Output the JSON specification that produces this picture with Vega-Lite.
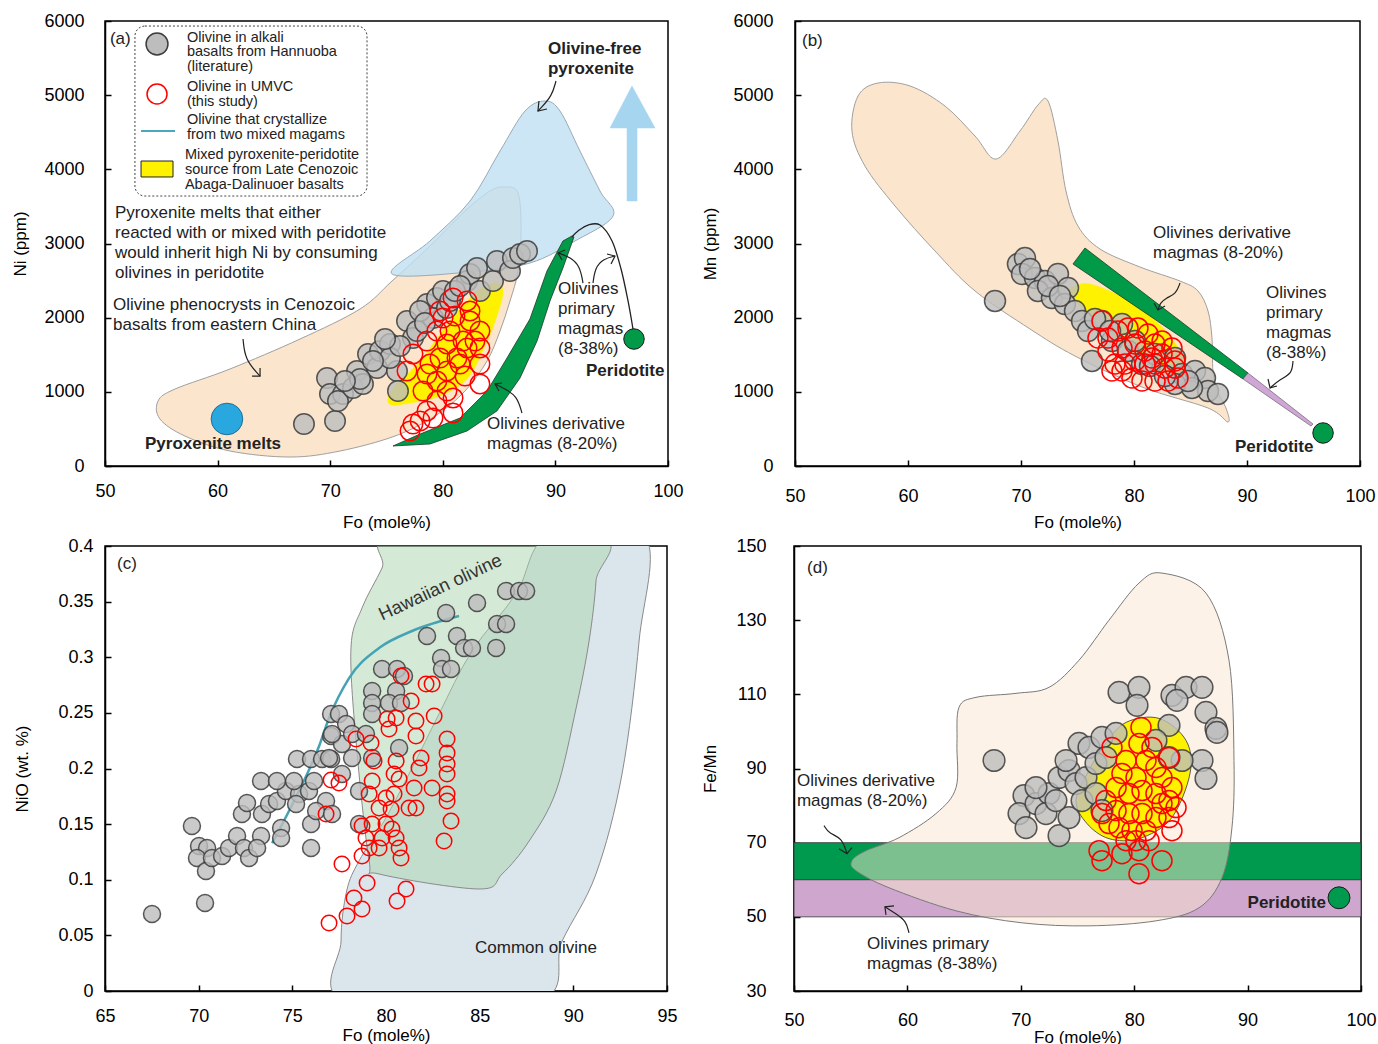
{
"$schema":"https://vega.github.io/schema/vega-lite/v6.json",
"background":"white",
"padding":{"left":11,"top":11,"right":0,"bottom":0},
"spacing":5,
"config":{
 "font":"Liberation Sans",
 "view":{"stroke":"#000","strokeWidth":1.5},
 "axis":{"grid":false,"domainColor":"#000","domainWidth":1.5,"tickColor":"#000","tickWidth":1.5,"tickSize":-6,"labelColor":"#000","labelFontSize":18,"labelFlush":false,"labelOverlap":false,"titleFontSize":17,"titleFontWeight":"normal","titleColor":"#000","zindex":1}
},
"vconcat":[
{"hconcat":[
{
"width":563,"height":445,
"encoding":{
 "x":{"field":"fo","type":"quantitative","scale":{"domain":[50,100],"nice":false,"zero":false},"axis":{"values":[50,60,70,80,90,100],"format":"d","title":"Fo (mole%)","labelPadding":22,"titlePadding":14}},
 "y":{"field":"ni","type":"quantitative","scale":{"domain":[0,6000],"nice":false,"zero":false},"axis":{"values":[0,1000,2000,3000,4000,5000,6000],"format":"d","title":"Ni (ppm)","labelPadding":27,"titlePadding":14}}
},
"layer":[
{"data":{"values":[{"fo":54.71,"ni":876},{"fo":56.22,"ni":1038},{"fo":61.10,"ni":1308},{"fo":67.32,"ni":1712},{"fo":72.65,"ni":2117},{"fo":75.49,"ni":2494},{"fo":78.86,"ni":2966},{"fo":81.97,"ni":3438},{"fo":84.19,"ni":3708},{"fo":85.52,"ni":3762},{"fo":86.68,"ni":3681},{"fo":86.95,"ni":3169},{"fo":86.68,"ni":2629},{"fo":85.97,"ni":2225},{"fo":85.08,"ni":1820},{"fo":83.93,"ni":1416},{"fo":81.97,"ni":1011},{"fo":79.31,"ni":674},{"fo":75.75,"ni":404},{"fo":70.87,"ni":202},{"fo":66.43,"ni":121},{"fo":61.10,"ni":202},{"fo":57.10,"ni":404},{"fo":54.88,"ni":634}]},
 "mark":{"type":"line","interpolate":"cardinal-closed","fill":"#FBE5CC","stroke":"#a0a0a0","strokeWidth":1},"encoding":{"order":{"value":null}}},
{"data":{"values":[{"fo":75.49,"ni":2589},{"fo":78.86,"ni":3034},{"fo":82.42,"ni":3573},{"fo":85.08,"ni":4247},{"fo":87.30,"ni":4786},{"fo":89.08,"ni":4921},{"fo":90.41,"ni":4786},{"fo":92.18,"ni":4247},{"fo":93.96,"ni":3708},{"fo":95.12,"ni":3371},{"fo":91.74,"ni":3034},{"fo":87.74,"ni":2737},{"fo":82.42,"ni":2616}]},
 "mark":{"type":"line","interpolate":"cardinal-closed","fill":"#BFE0F3","fillOpacity":0.8,"stroke":"#9aaab4","strokeWidth":1},"encoding":{"order":{"value":null}}},
{"data":{"values":[{"fo":96.36,"ni":3573},{"fo":96.36,"ni":4557},{"fo":94.85,"ni":4557},{"fo":96.80,"ni":5124},{"fo":98.85,"ni":4557},{"fo":97.25,"ni":4557},{"fo":97.25,"ni":3573}]},
 "mark":{"type":"line","interpolate":"linear-closed","fill":"#A6D5F0","stroke":"#A6D5F0","strokeWidth":0.5},"encoding":{"order":{"value":null}}},
{"data":{"values":[{"fo":75.58,"ni":270},{"fo":78.86,"ni":297},{"fo":82.15,"ni":472},{"fo":84.81,"ni":742},{"fo":86.86,"ni":1187},{"fo":88.37,"ni":1685},{"fo":89.52,"ni":2225},{"fo":90.67,"ni":2670},{"fo":91.65,"ni":3088},{"fo":91.47,"ni":3101},{"fo":90.67,"ni":3034},{"fo":89.25,"ni":2629},{"fo":87.74,"ni":1982},{"fo":85.70,"ni":1456},{"fo":83.93,"ni":1011},{"fo":81.53,"ni":647},{"fo":77.98,"ni":431}]},
 "mark":{"type":"line","interpolate":"linear-closed","fill":"#009A49","stroke":"#1c3b28","strokeWidth":0.8},"encoding":{"order":{"value":null}}},
{"data":{"values":[{"fo":75.13,"ni":903},{"fo":75.75,"ni":1079},{"fo":77.98,"ni":1416},{"fo":80.64,"ni":1955},{"fo":82.86,"ni":2333},{"fo":84.64,"ni":2467},{"fo":85.35,"ni":2360},{"fo":84.81,"ni":2022},{"fo":83.75,"ni":1618},{"fo":82.15,"ni":1173},{"fo":79.75,"ni":944},{"fo":77.09,"ni":849},{"fo":75.49,"ni":822}]},
 "mark":{"type":"line","interpolate":"cardinal-closed","fill":"#FFF200","stroke":"#FFF200","strokeWidth":0.5},"encoding":{"order":{"value":null}}},
{"data":{"values":[{"fo":96.89,"ni":1847},{"fo":96.45,"ni":2225},{"fo":95.83,"ni":2656},{"fo":95.03,"ni":3034},{"fo":93.96,"ni":3249},{"fo":92.90,"ni":3249},{"fo":92.01,"ni":3169},{"fo":91.47,"ni":3088}]},
 "mark":{"type":"line","interpolate":"cardinal","stroke":"#222","strokeWidth":1.3},"encoding":{"order":{"value":null}}},
{"data":{"values":[{"fo":67.67,"ni":566},{"fo":70.43,"ni":607},{"fo":69.72,"ni":1187},{"fo":69.98,"ni":971},{"fo":71.14,"ni":971},{"fo":70.69,"ni":876},{"fo":72.38,"ni":1281},{"fo":72.02,"ni":1052},{"fo":72.91,"ni":1106},{"fo":73.36,"ni":1510},{"fo":74.16,"ni":1321},{"fo":74.42,"ni":1551},{"fo":75.31,"ni":1645},{"fo":75.93,"ni":1281},{"fo":76.02,"ni":1011},{"fo":76.82,"ni":1955},{"fo":77.35,"ni":1726},{"fo":77.71,"ni":1820},{"fo":78.60,"ni":2184},{"fo":79.13,"ni":1995},{"fo":79.48,"ni":2265},{"fo":80.02,"ni":2360},{"fo":80.37,"ni":2130},{"fo":82.15,"ni":2494},{"fo":82.42,"ni":2589},{"fo":83.04,"ni":2670},{"fo":83.30,"ni":2360},{"fo":84.46,"ni":2494},{"fo":84.81,"ni":2764},{"fo":85.97,"ni":2629},{"fo":86.23,"ni":2804},{"fo":86.86,"ni":2858},{"fo":87.48,"ni":2899},{"fo":75.31,"ni":1456},{"fo":80.64,"ni":2225},{"fo":81.08,"ni":2360},{"fo":77.98,"ni":2090},{"fo":76.20,"ni":1618},{"fo":73.80,"ni":1416},{"fo":72.65,"ni":1173},{"fo":71.31,"ni":1146},{"fo":74.87,"ni":1712},{"fo":78.42,"ni":1928},{"fo":81.53,"ni":2427}]},
 "mark":{"type":"circle","size":420,"fill":"#BDBDBD","fillOpacity":0.8,"stroke":"#3c3c3c","strokeWidth":1.5,"strokeOpacity":0.85}},
{"data":{"values":[{"fo":77.09,"ni":472},{"fo":77.98,"ni":607},{"fo":78.60,"ni":742},{"fo":80.91,"ni":715},{"fo":76.82,"ni":1281},{"fo":77.35,"ni":1510},{"fo":78.60,"ni":1685},{"fo":79.48,"ni":1820},{"fo":80.02,"ni":1995},{"fo":80.91,"ni":2265},{"fo":82.15,"ni":2225},{"fo":82.42,"ni":1955},{"fo":83.30,"ni":1820},{"fo":83.30,"ni":1591},{"fo":83.30,"ni":1375},{"fo":83.30,"ni":1106},{"fo":82.15,"ni":1591},{"fo":81.53,"ni":1375},{"fo":80.37,"ni":1281},{"fo":79.48,"ni":1146},{"fo":78.86,"ni":1375},{"fo":80.37,"ni":1011},{"fo":79.48,"ni":876},{"fo":80.91,"ni":917},{"fo":78.24,"ni":1011},{"fo":81.79,"ni":1685},{"fo":80.37,"ni":1645},{"fo":81.26,"ni":1456},{"fo":79.13,"ni":647},{"fo":77.35,"ni":566},{"fo":80.64,"ni":1820},{"fo":79.75,"ni":1456},{"fo":78.60,"ni":1240},{"fo":81.08,"ni":2022},{"fo":82.42,"ni":2090},{"fo":79.75,"ni":2090},{"fo":82.86,"ni":1685},{"fo":81.97,"ni":1213}]},
 "mark":{"type":"point","shape":"circle","size":380,"filled":false,"stroke":"#FF0000","strokeWidth":1.5,"opacity":1}},
{"data":{"values":[{"fo":96.98,"ni":1712}]},"mark":{"type":"circle","size":420,"fill":"#009A49","stroke":"#1a1a1a","strokeWidth":1,"opacity":1}},
{"data":{"values":[{"fo":60.83,"ni":634}]},"mark":{"type":"circle","size":1000,"fill":"#29A8E0","stroke":"#1f6f96","strokeWidth":1,"opacity":1}},
{"data":{"values":[{"id":"a1","fo":90.05,"ni":5191},{"id":"a1","fo":89.70,"ni":4989},{"id":"a1","fo":88.63,"ni":4813},{"id":"a1","fo":88.45,"ni":4786},{"id":"a2","fo":62.26,"ni":1712},{"id":"a2","fo":62.43,"ni":1443},{"id":"a2","fo":63.59,"ni":1240},{"id":"a2","fo":63.77,"ni":1213},{"id":"a3","fo":92.45,"ni":2467},{"id":"a3","fo":92.18,"ni":2697},{"id":"a3","fo":91.30,"ni":2818},{"id":"a3","fo":90.23,"ni":2872},{"id":"a4","fo":93.34,"ni":2467},{"id":"a4","fo":93.52,"ni":2670},{"id":"a4","fo":94.23,"ni":2791},{"id":"a4","fo":95.29,"ni":2831},{"id":"a5","fo":87.03,"ni":715},{"id":"a5","fo":86.59,"ni":944},{"id":"a5","fo":85.52,"ni":1038},{"id":"a5","fo":84.64,"ni":1106}]},
 "mark":{"type":"line","interpolate":"basis","stroke":"#222","strokeWidth":1.2},"encoding":{"detail":{"field":"id"},"order":{"value":null}}},
{"data":{"values":[{"id":"a1","fo":88.54,"ni":4921},{"id":"a1","fo":88.45,"ni":4786},{"id":"a1","fo":89.25,"ni":4813},{"id":"a2","fo":63.06,"ni":1213},{"id":"a2","fo":63.77,"ni":1213},{"id":"a2","fo":63.77,"ni":1321},{"id":"a3","fo":90.85,"ni":2912},{"id":"a3","fo":90.23,"ni":2872},{"id":"a3","fo":90.59,"ni":2777},{"id":"a4","fo":94.58,"ni":2858},{"id":"a4","fo":95.29,"ni":2831},{"id":"a4","fo":94.94,"ni":2724},{"id":"a5","fo":85.26,"ni":1119},{"id":"a5","fo":84.64,"ni":1106},{"id":"a5","fo":84.99,"ni":1011}]},
 "mark":{"type":"line","interpolate":"linear","stroke":"#222","strokeWidth":1.2},"encoding":{"detail":{"field":"id"},"order":{"value":null}}},
{"data":{"values":[{"fo":50.89,"ni":3411,"t":"Pyroxenite melts that either"},{"fo":50.89,"ni":3142,"t":"reacted with or mixed with peridotite"},{"fo":50.89,"ni":2872,"t":"would inherit high Ni by consuming"},{"fo":50.89,"ni":2602,"t":"olivines in peridotite"},{"fo":50.71,"ni":2171,"t":"Olivine phenocrysts in Cenozoic"},{"fo":50.71,"ni":1901,"t":"basalts from eastern China"},{"fo":90.23,"ni":2387,"t":"Olivines"},{"fo":90.23,"ni":2117,"t":"primary"},{"fo":90.23,"ni":1847,"t":"magmas"},{"fo":90.23,"ni":1578,"t":"(8-38%)"},{"fo":83.93,"ni":566,"t":"Olivines derivative"},{"fo":83.93,"ni":297,"t":"magmas (8-20%)"},{"fo":50.44,"ni":5757,"t":"(a)"}]},
 "mark":{"type":"text","align":"left","baseline":"middle","fontSize":17,"color":"#222"},"encoding":{"text":{"field":"t"}}},
{"data":{"values":[{"fo":89.34,"ni":5622,"t":"Olivine-free"},{"fo":89.34,"ni":5353,"t":"pyroxenite"},{"fo":92.72,"ni":1281,"t":"Peridotite"},{"fo":53.55,"ni":297,"t":"Pyroxenite melts"}]},
 "mark":{"type":"text","align":"left","baseline":"middle","fontSize":17,"fontWeight":"bold","color":"#222"},"encoding":{"text":{"field":"t"}}},
{"data":{"values":[{"fo":52.66,"fo2":73.27,"ni":3640,"ni2":5932}]},
 "mark":{"type":"rect","fill":"white","stroke":"#444","strokeWidth":1,"strokeDash":[2,2],"cornerRadius":10},"encoding":{"x2":{"field":"fo2"},"y2":{"field":"ni2"}}},
{"data":{"values":[{"fo":54.62,"ni":5690}]},"mark":{"type":"circle","size":480,"fill":"#BDBDBD","stroke":"#3c3c3c","strokeWidth":1.5,"opacity":1}},
{"data":{"values":[{"fo":54.62,"ni":5016}]},"mark":{"type":"point","shape":"circle","size":400,"filled":false,"stroke":"#FF0000","strokeWidth":1.5,"opacity":1}},
{"data":{"values":[{"fo":53.20,"ni":4517},{"fo":56.22,"ni":4517}]},"mark":{"type":"line","stroke":"#4BA8BC","strokeWidth":2},"encoding":{"order":{"value":null}}},
{"data":{"values":[{"fo":53.20,"fo2":56.04,"ni":3897,"ni2":4112}]},"mark":{"type":"rect","fill":"#FFF200","stroke":"#222","strokeWidth":1},"encoding":{"x2":{"field":"fo2"},"y2":{"field":"ni2"}}},
{"data":{"values":[{"fo":57.28,"ni":5771,"t":"Olivine in alkali"},{"fo":57.28,"ni":5582,"t":"basalts from Hannuoba"},{"fo":57.28,"ni":5380,"t":"(literature)"},{"fo":57.28,"ni":5110,"t":"Olivine in UMVC"},{"fo":57.28,"ni":4908,"t":"(this study)"},{"fo":57.28,"ni":4665,"t":"Olivine that crystallize"},{"fo":57.28,"ni":4463,"t":"from two mixed magams"},{"fo":57.10,"ni":4193,"t":"Mixed pyroxenite-peridotite"},{"fo":57.10,"ni":3991,"t":"source  from Late Cenozoic"},{"fo":57.10,"ni":3789,"t":"Abaga-Dalinuoer basalts"}]},
 "mark":{"type":"text","align":"left","baseline":"middle","fontSize":14.5,"color":"#222"},"encoding":{"text":{"field":"t"}}}
]
},
{
"width":565,"height":445,
"encoding":{
 "x":{"field":"fo","type":"quantitative","scale":{"domain":[50,100],"nice":false,"zero":false},"axis":{"values":[50,60,70,80,90,100],"format":"d","title":"Fo (mole%)","labelPadding":27,"titlePadding":9}},
 "y":{"field":"mn","type":"quantitative","scale":{"domain":[0,6000],"nice":false,"zero":false},"axis":{"values":[0,1000,2000,3000,4000,5000,6000],"format":"d","title":"Mn (ppm)","labelPadding":28,"titlePadding":13}}
},
"layer":[
{"data":{"values":[{"fo":55.04,"mn":4517},{"fo":56.19,"mn":4045},{"fo":58.85,"mn":3506},{"fo":62.39,"mn":2899},{"fo":65.93,"mn":2360},{"fo":70.80,"mn":1847},{"fo":74.78,"mn":1483},{"fo":80.71,"mn":1065},{"fo":86.55,"mn":782},{"fo":88.32,"mn":593},{"fo":88.14,"mn":782},{"fo":87.35,"mn":1011},{"fo":86.99,"mn":1281},{"fo":86.90,"mn":1726},{"fo":86.55,"mn":2090},{"fo":85.66,"mn":2360},{"fo":84.07,"mn":2494},{"fo":80.53,"mn":2683},{"fo":76.99,"mn":2926},{"fo":75.04,"mn":3236},{"fo":73.98,"mn":3708},{"fo":73.27,"mn":4382},{"fo":72.39,"mn":4921},{"fo":71.50,"mn":4867},{"fo":69.91,"mn":4517},{"fo":67.79,"mn":4139},{"fo":65.93,"mn":4449},{"fo":63.27,"mn":4854},{"fo":60.18,"mn":5124},{"fo":57.35,"mn":5164},{"fo":55.58,"mn":4989}]},
 "mark":{"type":"line","interpolate":"cardinal-closed","fill":"#FBE5CC","stroke":"#a0a0a0","strokeWidth":1},"encoding":{"order":{"value":null}}},
{"data":{"values":[{"fo":74.78,"mn":2427},{"fo":76.11,"mn":2454},{"fo":78.76,"mn":2292},{"fo":81.42,"mn":2022},{"fo":83.19,"mn":1753},{"fo":84.51,"mn":1416},{"fo":84.07,"mn":1213},{"fo":82.30,"mn":1281},{"fo":79.65,"mn":1551},{"fo":76.99,"mn":1888},{"fo":75.22,"mn":2157},{"fo":74.34,"mn":2360}]},
 "mark":{"type":"line","interpolate":"cardinal-closed","fill":"#FFF200","stroke":"#FFF200","strokeWidth":0.5},"encoding":{"order":{"value":null}}},
{"data":{"values":[{"fo":74.60,"mn":2724},{"fo":75.66,"mn":2939},{"fo":90.09,"mn":1254},{"fo":89.65,"mn":1173}]},
 "mark":{"type":"line","interpolate":"linear-closed","fill":"#009A49","stroke":"#1c3b28","strokeWidth":0.8},"encoding":{"order":{"value":null}}},
{"data":{"values":[{"fo":89.65,"mn":1173},{"fo":90.09,"mn":1254},{"fo":95.84,"mn":566},{"fo":95.66,"mn":539}]},
 "mark":{"type":"line","interpolate":"linear-closed","fill":"#CFA6D6","stroke":"#555","strokeWidth":0.6},"encoding":{"order":{"value":null}}},
{"data":{"values":[{"fo":67.70,"mn":2225},{"fo":69.73,"mn":2724},{"fo":70.35,"mn":2804},{"fo":70.09,"mn":2589},{"fo":71.24,"mn":2535},{"fo":72.12,"mn":2494},{"fo":71.50,"mn":2360},{"fo":72.74,"mn":2265},{"fo":73.27,"mn":2589},{"fo":74.16,"mn":2400},{"fo":73.89,"mn":2184},{"fo":74.78,"mn":2090},{"fo":75.40,"mn":1955},{"fo":75.93,"mn":1820},{"fo":77.17,"mn":1955},{"fo":76.28,"mn":1416},{"fo":78.05,"mn":1685},{"fo":78.94,"mn":1915},{"fo":79.47,"mn":1551},{"fo":80.71,"mn":1375},{"fo":81.86,"mn":1510},{"fo":83.63,"mn":1456},{"fo":84.25,"mn":1240},{"fo":85.40,"mn":1281},{"fo":86.28,"mn":1187},{"fo":86.55,"mn":1011},{"fo":87.43,"mn":971},{"fo":85.13,"mn":1052},{"fo":83.63,"mn":1106},{"fo":70.80,"mn":2656},{"fo":72.39,"mn":2427},{"fo":73.45,"mn":2292},{"fo":76.55,"mn":1982},{"fo":77.88,"mn":1820},{"fo":80.09,"mn":1685},{"fo":81.42,"mn":1348},{"fo":82.74,"mn":1213},{"fo":84.78,"mn":1146}]},
 "mark":{"type":"circle","size":440,"fill":"#BDBDBD","fillOpacity":0.8,"stroke":"#3c3c3c","strokeWidth":1.5,"strokeOpacity":0.85}},
{"data":{"values":[{"fo":77.17,"mn":1955},{"fo":76.81,"mn":1726},{"fo":77.70,"mn":1726},{"fo":78.58,"mn":1820},{"fo":79.47,"mn":1861},{"fo":80.35,"mn":1861},{"fo":81.24,"mn":1780},{"fo":77.70,"mn":1551},{"fo":78.94,"mn":1591},{"fo":80.09,"mn":1645},{"fo":80.97,"mn":1551},{"fo":81.86,"mn":1645},{"fo":82.48,"mn":1510},{"fo":83.36,"mn":1591},{"fo":78.32,"mn":1375},{"fo":79.20,"mn":1375},{"fo":80.09,"mn":1416},{"fo":80.97,"mn":1375},{"fo":81.86,"mn":1375},{"fo":82.74,"mn":1321},{"fo":83.63,"mn":1321},{"fo":83.89,"mn":1187},{"fo":83.01,"mn":1146},{"fo":81.86,"mn":1146},{"fo":80.71,"mn":1146},{"fo":79.82,"mn":1187},{"fo":78.94,"mn":1281},{"fo":78.05,"mn":1281},{"fo":81.59,"mn":1456},{"fo":82.48,"mn":1685},{"fo":83.63,"mn":1416}]},
 "mark":{"type":"point","shape":"circle","size":400,"filled":false,"stroke":"#FF0000","strokeWidth":1.5,"opacity":1}},
{"data":{"values":[{"fo":96.73,"mn":445}]},"mark":{"type":"circle","size":420,"fill":"#009A49","stroke":"#1a1a1a","strokeWidth":1,"opacity":1}},
{"data":{"values":[{"id":"b1","fo":84.07,"mn":2467},{"id":"b1","fo":83.72,"mn":2319},{"id":"b1","fo":82.83,"mn":2265},{"id":"b1","fo":82.30,"mn":2198},{"id":"b1","fo":82.12,"mn":2103},{"id":"b2","fo":94.07,"mn":1416},{"id":"b2","fo":93.98,"mn":1240},{"id":"b2","fo":92.92,"mn":1173},{"id":"b2","fo":92.04,"mn":1052}]},
 "mark":{"type":"line","interpolate":"basis","stroke":"#222","strokeWidth":1.2},"encoding":{"detail":{"field":"id"},"order":{"value":null}}},
{"data":{"values":[{"id":"b1","fo":81.77,"mn":2198},{"id":"b1","fo":82.12,"mn":2103},{"id":"b1","fo":82.74,"mn":2157},{"id":"b2","fo":91.86,"mn":1173},{"id":"b2","fo":92.04,"mn":1052},{"id":"b2","fo":92.65,"mn":1079}]},
 "mark":{"type":"line","interpolate":"linear","stroke":"#222","strokeWidth":1.2},"encoding":{"detail":{"field":"id"},"order":{"value":null}}},
{"data":{"values":[{"fo":50.62,"mn":5730,"t":"(b)"},{"fo":81.68,"mn":3142,"t":"Olivines derivative"},{"fo":81.68,"mn":2872,"t":"magmas (8-20%)"},{"fo":91.68,"mn":2333,"t":"Olivines"},{"fo":91.68,"mn":2063,"t":"primary"},{"fo":91.68,"mn":1793,"t":"magmas"},{"fo":91.68,"mn":1524,"t":"(8-38%)"}]},
 "mark":{"type":"text","align":"left","baseline":"middle","fontSize":17,"color":"#222"},"encoding":{"text":{"field":"t"}}},
{"data":{"values":[{"fo":88.94,"mn":256,"t":"Peridotite"}]},
 "mark":{"type":"text","align":"left","baseline":"middle","fontSize":17,"fontWeight":"bold","color":"#222"},"encoding":{"text":{"field":"t"}}}
]
}
],"spacing":127,"bounds":"flush"},
{"hconcat":[
{
"width":562,"height":445,
"encoding":{
 "x":{"field":"fo","type":"quantitative","scale":{"domain":[65,95],"nice":false,"zero":false},"axis":{"values":[65,70,75,80,85,90,95],"format":"d","title":"Fo (mole%)","labelPadding":22,"titlePadding":2}},
 "y":{"field":"nio","type":"quantitative","scale":{"domain":[0,0.4],"nice":false,"zero":false},"axis":{"values":[0,0.05,0.1,0.15,0.2,0.25,0.3,0.35,0.4],"format":"~g","title":"NiO (wt. %)","labelPadding":18,"titlePadding":26}}
},
"layer":[
{"data":{"values":[{"fo":88.71,"nio":0.41},{"fo":93.78,"nio":0.41},{"fo":93.51,"nio":0.3146},{"fo":92.60,"nio":0.1951},{"fo":91.21,"nio":0.1052},{"fo":89.40,"nio":0.0449},{"fo":88.01,"nio":-0.01},{"fo":77.90,"nio":-0.01},{"fo":77.60,"nio":0.0449},{"fo":77.90,"nio":0.0899},{"fo":78.56,"nio":0.1169},{"fo":79.90,"nio":0.1528},{"fo":81.39,"nio":0.2004},{"fo":82.83,"nio":0.2490},{"fo":84.59,"nio":0.3056},{"fo":86.94,"nio":0.3569}]},
 "mark":{"type":"line","interpolate":"cardinal-closed","clip":true,"fill":"#DAE5EC","stroke":"#8a8a8a","strokeWidth":1},"encoding":{"order":{"value":null}}},
{"data":{"values":[{"fo":80.54,"nio":0.41},{"fo":91.21,"nio":0.41},{"fo":91.21,"nio":0.3685},{"fo":90.84,"nio":0.3146},{"fo":90.15,"nio":0.2544},{"fo":89.08,"nio":0.1798},{"fo":87.64,"nio":0.1348},{"fo":86.20,"nio":0.1052},{"fo":84.97,"nio":0.0917},{"fo":79.63,"nio":0.1052},{"fo":79.10,"nio":0.1169},{"fo":78.40,"nio":0.2247},{"fo":78.13,"nio":0.3083},{"fo":78.72,"nio":0.3443},{"fo":79.79,"nio":0.3802}]},
 "mark":{"type":"line","interpolate":"cardinal-closed","clip":true,"fill":"#ABD5AD","fillOpacity":0.5,"stroke":"#8a8a8a","strokeWidth":1},"encoding":{"order":{"value":null}}},
{"data":{"values":[{"fo":73.92,"nio":0.1330},{"fo":75.09,"nio":0.1708},{"fo":76.43,"nio":0.2202},{"fo":76.96,"nio":0.2454},{"fo":78.03,"nio":0.2813},{"fo":79.63,"nio":0.3083},{"fo":81.39,"nio":0.3236},{"fo":83.90,"nio":0.3371}]},
 "mark":{"type":"line","interpolate":"monotone","stroke":"#45A3B5","strokeWidth":2.5},"encoding":{"order":{"value":null}}},
{"data":{"values":[{"fo":67.51,"nio":0.0692},{"fo":70.34,"nio":0.0791},{"fo":69.64,"nio":0.1483},{"fo":70.02,"nio":0.1303},{"fo":70.45,"nio":0.1285},{"fo":69.91,"nio":0.1196},{"fo":70.39,"nio":0.1079},{"fo":70.71,"nio":0.1196},{"fo":71.25,"nio":0.1213},{"fo":71.62,"nio":0.1285},{"fo":72.05,"nio":0.1393},{"fo":72.42,"nio":0.1285},{"fo":72.69,"nio":0.1196},{"fo":73.33,"nio":0.1393},{"fo":73.12,"nio":0.1285},{"fo":72.31,"nio":0.1591},{"fo":72.58,"nio":0.1690},{"fo":73.38,"nio":0.1591},{"fo":73.76,"nio":0.1681},{"fo":74.18,"nio":0.1708},{"fo":74.66,"nio":0.1798},{"fo":74.40,"nio":0.1465},{"fo":74.40,"nio":0.1375},{"fo":75.36,"nio":0.1771},{"fo":75.89,"nio":0.1798},{"fo":76.00,"nio":0.1501},{"fo":76.00,"nio":0.1285},{"fo":76.80,"nio":0.1708},{"fo":73.33,"nio":0.1888},{"fo":74.18,"nio":0.1888},{"fo":75.09,"nio":0.1888},{"fo":76.16,"nio":0.1888},{"fo":75.25,"nio":0.2085},{"fo":76.00,"nio":0.2085},{"fo":76.59,"nio":0.2085},{"fo":77.07,"nio":0.2085},{"fo":77.07,"nio":0.2292},{"fo":77.07,"nio":0.2490},{"fo":77.49,"nio":0.2490},{"fo":77.65,"nio":0.2220},{"fo":77.65,"nio":0.1951},{"fo":75.20,"nio":0.1681},{"fo":76.27,"nio":0.1618},{"fo":83.21,"nio":0.3398},{"fo":84.86,"nio":0.3488},{"fo":86.41,"nio":0.3596},{"fo":87.10,"nio":0.3596},{"fo":87.48,"nio":0.3596},{"fo":85.93,"nio":0.3299},{"fo":86.41,"nio":0.3299},{"fo":82.19,"nio":0.3191},{"fo":83.79,"nio":0.3191},{"fo":84.17,"nio":0.3083},{"fo":84.59,"nio":0.3083},{"fo":85.88,"nio":0.3083},{"fo":82.94,"nio":0.2993},{"fo":82.99,"nio":0.2894},{"fo":83.47,"nio":0.2894},{"fo":79.79,"nio":0.2894},{"fo":80.59,"nio":0.2894},{"fo":80.96,"nio":0.2831},{"fo":79.26,"nio":0.2697},{"fo":80.54,"nio":0.2697},{"fo":79.26,"nio":0.2589},{"fo":80.16,"nio":0.2589},{"fo":80.80,"nio":0.2589},{"fo":79.26,"nio":0.2490},{"fo":77.12,"nio":0.2310},{"fo":77.87,"nio":0.2400},{"fo":78.19,"nio":0.2310},{"fo":78.93,"nio":0.2310},{"fo":80.70,"nio":0.2184},{"fo":76.96,"nio":0.2094},{"fo":78.19,"nio":0.2094},{"fo":79.26,"nio":0.2094},{"fo":78.56,"nio":0.1798},{"fo":77.12,"nio":0.1591},{"fo":78.56,"nio":0.1501}]},
 "mark":{"type":"circle","size":290,"fill":"#BDBDBD","fillOpacity":0.8,"stroke":"#3c3c3c","strokeWidth":1.5,"strokeOpacity":0.85}},
{"data":{"values":[{"fo":80.80,"nio":0.2831},{"fo":82.14,"nio":0.2760},{"fo":82.46,"nio":0.2760},{"fo":81.34,"nio":0.2607},{"fo":82.57,"nio":0.2472},{"fo":80.06,"nio":0.2445},{"fo":80.54,"nio":0.2454},{"fo":80.16,"nio":0.2355},{"fo":81.60,"nio":0.2427},{"fo":81.60,"nio":0.2292},{"fo":83.26,"nio":0.2265},{"fo":78.40,"nio":0.2265},{"fo":79.20,"nio":0.2229},{"fo":83.26,"nio":0.2139},{"fo":79.36,"nio":0.2067},{"fo":80.54,"nio":0.2067},{"fo":81.87,"nio":0.2094},{"fo":81.76,"nio":0.2004},{"fo":83.26,"nio":0.2040},{"fo":83.26,"nio":0.1951},{"fo":79.26,"nio":0.1888},{"fo":80.43,"nio":0.1951},{"fo":80.70,"nio":0.1906},{"fo":81.50,"nio":0.1825},{"fo":82.46,"nio":0.1825},{"fo":83.26,"nio":0.1771},{"fo":83.26,"nio":0.1708},{"fo":79.10,"nio":0.1771},{"fo":80.00,"nio":0.1735},{"fo":80.43,"nio":0.1771},{"fo":79.63,"nio":0.1645},{"fo":80.27,"nio":0.1636},{"fo":81.23,"nio":0.1645},{"fo":81.60,"nio":0.1645},{"fo":83.47,"nio":0.1528},{"fo":78.72,"nio":0.1483},{"fo":79.26,"nio":0.1501},{"fo":80.00,"nio":0.1501},{"fo":80.32,"nio":0.1456},{"fo":79.79,"nio":0.1375},{"fo":80.54,"nio":0.1375},{"fo":78.93,"nio":0.1375},{"fo":79.10,"nio":0.1285},{"fo":79.63,"nio":0.1285},{"fo":80.70,"nio":0.1285},{"fo":80.80,"nio":0.1196},{"fo":78.72,"nio":0.1213},{"fo":83.10,"nio":0.1348},{"fo":77.65,"nio":0.1142},{"fo":78.99,"nio":0.0971},{"fo":81.07,"nio":0.0917},{"fo":80.59,"nio":0.0809},{"fo":78.29,"nio":0.0836},{"fo":78.72,"nio":0.0737},{"fo":77.92,"nio":0.0674},{"fo":76.96,"nio":0.0611},{"fo":77.07,"nio":0.1897},{"fo":77.49,"nio":0.1870},{"fo":76.80,"nio":0.1591}]},
 "mark":{"type":"point","shape":"circle","size":240,"filled":false,"stroke":"#FF0000","strokeWidth":1.5,"opacity":1}},
{"data":{"values":[{"fo":65.64,"nio":0.3838,"t":"(c)"},{"fo":84.75,"nio":0.0387,"t":"Common olivine"}]},
 "mark":{"type":"text","align":"left","baseline":"middle","fontSize":17,"color":"#222"},"encoding":{"text":{"field":"t"}}},
{"data":{"values":[{"fo":82.90,"nio":0.3630,"t":"Hawaiian olivine"}]},
 "mark":{"type":"text","align":"center","baseline":"middle","fontSize":18.5,"angle":-25,"color":"#333"},"encoding":{"text":{"field":"t"}}}
]
},
{
"width":567,"height":445,
"encoding":{
 "x":{"field":"fo","type":"quantitative","scale":{"domain":[50,100],"nice":false,"zero":false},"axis":{"values":[50,60,70,80,90,100],"format":"d","title":"Fo (mole%)","labelPadding":26,"titlePadding":0}},
 "y":{"field":"femn","type":"quantitative","scale":{"domain":[30,150],"nice":false,"zero":false},"axis":{"values":[30,50,70,90,110,130,150],"format":"d","title":"Fe/Mn","labelPadding":34,"titlePadding":16}}
},
"layer":[
{"data":{"values":[{"fo":50,"fo2":100,"femn":60,"femn2":70}]},"mark":{"type":"rect","fill":"#009A4E","stroke":"#333","strokeWidth":0.8},"encoding":{"x2":{"field":"fo2"},"y2":{"field":"femn2"}}},
{"data":{"values":[{"fo":50,"fo2":100,"femn":50,"femn2":60}]},"mark":{"type":"rect","fill":"#CFA6CE","stroke":"#333","strokeWidth":0.8},"encoding":{"x2":{"field":"fo2"},"y2":{"field":"femn2"}}},
{"data":{"values":[{"fo":82.45,"femn":142.70},{"fo":86.33,"femn":137.30},{"fo":88.36,"femn":119.19},{"fo":88.80,"femn":92.16},{"fo":88.62,"femn":74.05},{"fo":87.74,"femn":60.54},{"fo":85.71,"femn":52.43},{"fo":81.92,"femn":48.92},{"fo":76.01,"femn":47.57},{"fo":70.11,"femn":48.38},{"fo":64.29,"femn":51.62},{"fo":58.38,"femn":57.84},{"fo":55.47,"femn":62.43},{"fo":55.11,"femn":65.14},{"fo":56.35,"femn":67.84},{"fo":59.26,"femn":71.35},{"fo":62.52,"femn":77.84},{"fo":64.29,"femn":84.86},{"fo":64.37,"femn":96.76},{"fo":64.55,"femn":106.49},{"fo":66.05,"femn":109.19},{"fo":69.58,"femn":110.27},{"fo":72.49,"femn":111.89},{"fo":75.13,"femn":119.19},{"fo":77.78,"femn":130.00},{"fo":80.42,"femn":140.00}]},
 "mark":{"type":"line","interpolate":"cardinal-closed","clip":true,"fill":"#F9E6CF","fillOpacity":0.5,"stroke":"#7a7a7a","strokeWidth":1},"encoding":{"order":{"value":null}}},
{"data":{"values":[{"fo":79.28,"femn":102.43},{"fo":82.19,"femn":103.51},{"fo":84.57,"femn":97.57},{"fo":84.92,"femn":88.65},{"fo":83.25,"femn":76.49},{"fo":80.42,"femn":71.08},{"fo":77.78,"femn":71.08},{"fo":75.84,"femn":75.14},{"fo":74.87,"femn":81.35},{"fo":76.01,"femn":89.46},{"fo":77.34,"femn":96.22}]},
 "mark":{"type":"line","interpolate":"cardinal-closed","fill":"#FFF200","stroke":"#333","strokeWidth":0.8},"encoding":{"order":{"value":null}}},
{"data":{"values":[{"fo":67.64,"femn":92.16},{"fo":78.66,"femn":110.54},{"fo":80.42,"femn":111.89},{"fo":80.25,"femn":107.03},{"fo":83.33,"femn":109.73},{"fo":84.57,"femn":111.89},{"fo":85.98,"femn":111.89},{"fo":83.77,"femn":108.38},{"fo":86.33,"femn":105.14},{"fo":87.21,"femn":100.81},{"fo":87.30,"femn":99.73},{"fo":83.07,"femn":101.62},{"fo":85.98,"femn":92.16},{"fo":86.33,"femn":87.30},{"fo":84.22,"femn":92.16},{"fo":70.28,"femn":82.70},{"fo":69.84,"femn":77.84},{"fo":70.46,"femn":74.05},{"fo":71.34,"femn":80.54},{"fo":72.49,"femn":83.24},{"fo":73.37,"femn":87.57},{"fo":72.22,"femn":77.84},{"fo":73.37,"femn":71.89},{"fo":74.25,"femn":76.76},{"fo":74.25,"femn":89.46},{"fo":75.13,"femn":96.76},{"fo":76.01,"femn":95.68},{"fo":77.16,"femn":98.38},{"fo":78.40,"femn":99.46},{"fo":74.87,"femn":85.95},{"fo":75.75,"femn":87.57},{"fo":76.63,"femn":91.35},{"fo":75.40,"femn":81.35},{"fo":76.63,"femn":83.24},{"fo":77.16,"femn":78.65},{"fo":77.51,"femn":92.97},{"fo":81.92,"femn":97.57},{"fo":83.07,"femn":92.97},{"fo":73.10,"femn":81.35},{"fo":71.34,"femn":84.86},{"fo":73.99,"femn":92.16}]},
 "mark":{"type":"circle","size":470,"fill":"#BDBDBD","fillOpacity":0.8,"stroke":"#3c3c3c","strokeWidth":1.5,"strokeOpacity":0.85}},
{"data":{"values":[{"fo":80.60,"femn":101.08},{"fo":78.04,"femn":95.68},{"fo":80.42,"femn":96.76},{"fo":81.57,"femn":95.68},{"fo":83.07,"femn":92.97},{"fo":79.28,"femn":92.16},{"fo":81.04,"femn":92.16},{"fo":81.92,"femn":90.27},{"fo":78.92,"femn":88.65},{"fo":80.16,"femn":87.57},{"fo":82.45,"femn":87.57},{"fo":83.33,"femn":84.86},{"fo":78.40,"femn":84.86},{"fo":79.54,"femn":83.24},{"fo":80.69,"femn":84.05},{"fo":81.92,"femn":83.24},{"fo":83.07,"femn":81.35},{"fo":77.51,"femn":81.35},{"fo":78.40,"femn":78.65},{"fo":79.54,"femn":77.84},{"fo":80.69,"femn":77.84},{"fo":81.92,"femn":76.76},{"fo":83.07,"femn":76.76},{"fo":83.33,"femn":73.24},{"fo":78.66,"femn":74.05},{"fo":79.81,"femn":73.24},{"fo":81.04,"femn":73.24},{"fo":77.78,"femn":75.14},{"fo":77.16,"femn":77.84},{"fo":76.90,"femn":67.84},{"fo":77.16,"femn":65.14},{"fo":78.92,"femn":67.03},{"fo":80.42,"femn":67.84},{"fo":82.45,"femn":65.14},{"fo":80.42,"femn":61.62},{"fo":80.16,"femn":70.54},{"fo":81.31,"femn":70.54},{"fo":79.28,"femn":70.54},{"fo":83.69,"femn":79.46},{"fo":82.45,"femn":80.54}]},
 "mark":{"type":"point","shape":"circle","size":400,"filled":false,"stroke":"#FF0000","strokeWidth":1.5,"opacity":1}},
{"data":{"values":[{"fo":98.06,"femn":55.14}]},"mark":{"type":"circle","size":480,"fill":"#009A4E","stroke":"#1a1a1a","strokeWidth":1,"opacity":1}},
{"data":{"values":[{"id":"d1","fo":52.65,"femn":74.59},{"id":"d1","fo":53.09,"femn":72.43},{"id":"d1","fo":54.23,"femn":71.35},{"id":"d1","fo":54.67,"femn":67.03},{"id":"d2","fo":60.14,"femn":45.68},{"id":"d2","fo":59.88,"femn":48.92},{"id":"d2","fo":58.99,"femn":50.81},{"id":"d2","fo":58.02,"femn":52.70}]},
 "mark":{"type":"line","interpolate":"basis","stroke":"#222","strokeWidth":1.2},"encoding":{"detail":{"field":"id"},"order":{"value":null}}},
{"data":{"values":[{"id":"d1","fo":53.97,"femn":68.38},{"id":"d1","fo":54.67,"femn":67.03},{"id":"d1","fo":55.11,"femn":68.65},{"id":"d2","fo":58.11,"femn":50.54},{"id":"d2","fo":58.02,"femn":52.70},{"id":"d2","fo":58.82,"femn":52.97}]},
 "mark":{"type":"line","interpolate":"linear","stroke":"#222","strokeWidth":1.2},"encoding":{"detail":{"field":"id"},"order":{"value":null}}},
{"data":{"values":[{"fo":51.15,"femn":144.05,"t":"(d)"},{"fo":50.26,"femn":86.76,"t":"Olivines derivative"},{"fo":50.26,"femn":81.35,"t":"magmas (8-20%)"},{"fo":56.44,"femn":42.70,"t":"Olivines primary"},{"fo":56.44,"femn":37.30,"t":"magmas (8-38%)"}]},
 "mark":{"type":"text","align":"left","baseline":"middle","fontSize":17,"color":"#222"},"encoding":{"text":{"field":"t"}}},
{"data":{"values":[{"fo":96.91,"femn":53.78,"t":"Peridotite"}]},
 "mark":{"type":"text","align":"right","baseline":"middle","fontSize":17,"fontWeight":"bold","color":"#222"},"encoding":{"text":{"field":"t"}}}
]
}
],"spacing":127,"bounds":"flush"}
]
}
